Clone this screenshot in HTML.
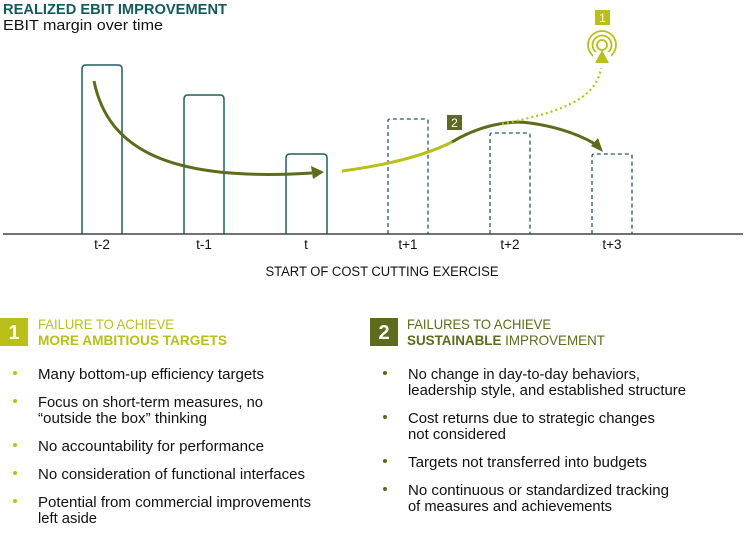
<!DOCTYPE html>
<html><head><meta charset="utf-8"><style>
html,body{margin:0;padding:0;background:#fff;}
svg{display:block;font-family:"Liberation Sans",sans-serif;}
</style></head><body>
<svg width="750" height="538" viewBox="0 0 750 538" xmlns="http://www.w3.org/2000/svg">
<text x="3" y="14" font-size="14.5" font-weight="bold" fill="#135a5a" textLength="224" lengthAdjust="spacingAndGlyphs">REALIZED EBIT IMPROVEMENT</text>
<text x="3" y="30" font-size="14.5" fill="#111" textLength="160" lengthAdjust="spacingAndGlyphs">EBIT margin over time</text>
<g fill="none" stroke="#1f5f60" stroke-width="1.5">
<path d="M82,234 V69 q0,-4 4,-4 h32 q4,0 4,4 V234"/>
<path d="M184,234 V99 q0,-4 4,-4 h32 q4,0 4,4 V234"/>
<path d="M286,234 V158 q0,-4 4,-4 h33 q4,0 4,4 V234"/>
<g stroke-dasharray="4,3" stroke-width="1.3">
<path d="M388,234 V121 q0,-2 2,-2 h36 q2,0 2,2 V234"/>
<path d="M490,234 V135 q0,-2 2,-2 h36 q2,0 2,2 V234"/>
<path d="M592,234 V156 q0,-2 2,-2 h36 q2,0 2,2 V234"/>
</g>
</g>
<line x1="3" y1="234" x2="743" y2="234" stroke="#444" stroke-width="1.5"/>
<g font-size="13.5" fill="#111" text-anchor="middle">
<text x="102" y="249">t-2</text><text x="204" y="249">t-1</text><text x="306" y="249">t</text>
<text x="408" y="249">t+1</text><text x="510" y="249">t+2</text><text x="612" y="249">t+3</text>
<text x="382" y="276" textLength="233" lengthAdjust="spacingAndGlyphs">START OF COST CUTTING EXERCISE</text>
</g>
<path d="M94,81 C108,150 170,182 312,173" fill="none" stroke="#5e6a1c" stroke-width="3"/>
<polygon points="324,172 311,166 313,179" fill="#5e6a1c"/>
<path d="M342,171 C380,166 420,158 452,142" fill="none" stroke="#b8bf19" stroke-width="3"/>
<path d="M452,142 C480,125 510,120 530,123 C560,127 585,137 598,146" fill="none" stroke="#5e6a1c" stroke-width="3"/>
<polygon points="603,152 591,146 598,138" fill="#5e6a1c"/>
<path d="M502,124 C560,112 596,100 601,68" fill="none" stroke="#b8bf19" stroke-width="2.2" stroke-dasharray="2,3"/>
<g fill="none" stroke="#b8bf19" stroke-width="1.8">
<circle cx="602" cy="45" r="14"/><circle cx="602" cy="45" r="9.5"/><circle cx="602" cy="45" r="5"/>
</g>
<rect x="593" y="52" width="18" height="12" fill="#fff"/>
<polygon points="602,50 595,63 609,63" fill="#b8bf19"/>
<rect x="595" y="10" width="15" height="15" fill="#b8bf19"/>
<text x="602.5" y="22" font-size="12" fill="#fff" text-anchor="middle">1</text>
<rect x="447" y="115" width="15" height="15" fill="#5e6a1c"/>
<text x="454.5" y="127" font-size="12" fill="#fff" text-anchor="middle">2</text>

<rect x="0" y="318" width="28" height="28" fill="#b8bf19"/>
<text x="14" y="339" font-size="20" font-weight="bold" fill="#fff" text-anchor="middle">1</text>
<text x="38" y="329" font-size="14" fill="#b8bf19" textLength="136" lengthAdjust="spacingAndGlyphs">FAILURE TO ACHIEVE</text>
<text x="38" y="345" font-size="14" font-weight="bold" fill="#b8bf19" textLength="189" lengthAdjust="spacingAndGlyphs">MORE AMBITIOUS TARGETS</text>
<g fill="#b8bf19"><circle cx="15" cy="373" r="2"/><circle cx="15" cy="401" r="2"/><circle cx="15" cy="445" r="2"/><circle cx="15" cy="473" r="2"/><circle cx="15" cy="501" r="2"/></g>
<g font-size="15" fill="#111" lengthAdjust="spacingAndGlyphs">
<text x="38" y="379" textLength="226" lengthAdjust="spacingAndGlyphs">Many bottom-up efficiency targets</text>
<text x="38" y="407" textLength="225" lengthAdjust="spacingAndGlyphs">Focus on short-term measures, no</text>
<text x="38" y="423" textLength="169" lengthAdjust="spacingAndGlyphs">“outside the box” thinking</text>
<text x="38" y="451" textLength="226" lengthAdjust="spacingAndGlyphs">No accountability for performance</text>
<text x="38" y="479" textLength="267" lengthAdjust="spacingAndGlyphs">No consideration of functional interfaces</text>
<text x="38" y="507" textLength="273" lengthAdjust="spacingAndGlyphs">Potential from commercial improvements</text>
<text x="38" y="523" textLength="59" lengthAdjust="spacingAndGlyphs">left aside</text>
</g>

<rect x="370" y="318" width="28" height="28" fill="#5e6a1c"/>
<text x="384" y="339" font-size="20" font-weight="bold" fill="#fff" text-anchor="middle">2</text>
<text x="407" y="329" font-size="14" fill="#5e6a1c" textLength="144" lengthAdjust="spacingAndGlyphs">FAILURES TO ACHIEVE</text>
<text x="407" y="345" font-size="14" fill="#5e6a1c" textLength="198" lengthAdjust="spacingAndGlyphs"><tspan font-weight="bold">SUSTAINABLE</tspan> IMPROVEMENT</text>
<g fill="#5e6a1c"><circle cx="385" cy="373" r="2"/><circle cx="385" cy="417" r="2"/><circle cx="385" cy="461" r="2"/><circle cx="385" cy="489" r="2"/></g>
<g font-size="15" fill="#111">
<text x="408" y="379" textLength="232" lengthAdjust="spacingAndGlyphs">No change in day-to-day behaviors,</text>
<text x="408" y="395" textLength="278" lengthAdjust="spacingAndGlyphs">leadership style, and established structure</text>
<text x="408" y="423" textLength="247" lengthAdjust="spacingAndGlyphs">Cost returns due to strategic changes</text>
<text x="408" y="439" textLength="98" lengthAdjust="spacingAndGlyphs">not considered</text>
<text x="408" y="467" textLength="239" lengthAdjust="spacingAndGlyphs">Targets not transferred into budgets</text>
<text x="408" y="495" textLength="261" lengthAdjust="spacingAndGlyphs">No continuous or standardized tracking</text>
<text x="408" y="511" textLength="204" lengthAdjust="spacingAndGlyphs">of measures and achievements</text>
</g>
</svg>
</body></html>
